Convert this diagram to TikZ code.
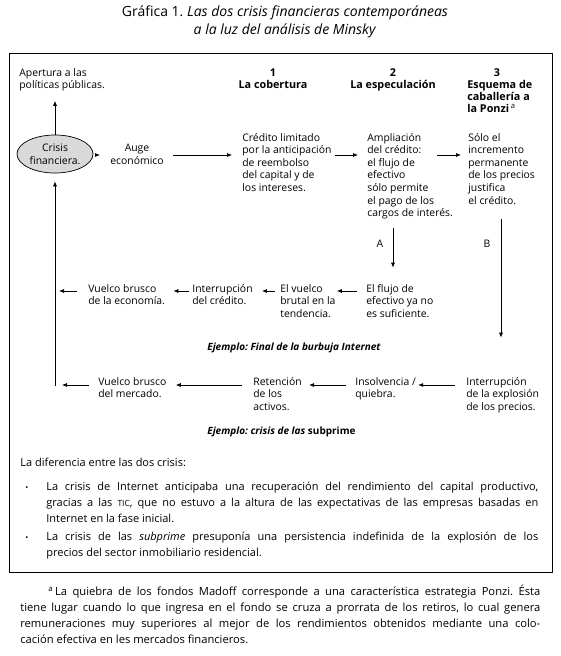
\documentclass[tikz,border=0pt]{standalone}
\usepackage{fontspec}
\setmainfont{Open Sans}
\usetikzlibrary{shapes.geometric,arrows.meta}
\hyphenpenalty=10000
\exhyphenpenalty=10000
\frenchspacing
\begin{document}
\begin{tikzpicture}[x=1pt,y=-1pt,line width=0.7pt]
	\tikzstyle{txt}=[inner sep=0pt,anchor=base west,align=left,font=\fontsize{10.4}{12.6}\selectfont]
	\tikzstyle{hdr}=[inner sep=0pt,anchor=base,align=center,font=\fontsize{10.8}{12}\selectfont\bfseries]
	\tikzstyle{par}=[inner sep=0pt,anchor=base west,align=justify,font=\fontsize{11}{16}\selectfont]
	\tikzstyle{arr}=[-{Latex[length=5pt,width=4pt]}]
	\tikzstyle{crisis}=[ellipse,draw,fill=gray!30,minimum width=76pt,minimum height=38pt,inner sep=0pt,align=center,font=\fontsize{10.4}{12.6}\selectfont]
	\useasboundingbox (0,0) rectangle (561,656);

	\node[inner sep=0pt,anchor=base,align=center,font=\fontsize{14}{18}\selectfont] (title) at (285,34.5) {Gráfica 1. \textit{Las dos crisis financieras contemporáneas}\\\textit{a la luz del análisis de Minsky}};
	\draw[line width=0.9pt] (9,53) rectangle (552,572);

	% encabezados
	\node[txt,font=\fontsize{10.4}{12}\selectfont] (apert) at (19,88) {Apertura a las\\políticas públicas.};
	\node[hdr] (h1) at (273,88) {1\\La cobertura};
	\node[hdr] (h2) at (393,88) {2\\La especulación};
	\node[hdr] (h3) at (497,76) {3};
	\node[txt,font=\fontsize{10.8}{12}\selectfont\bfseries] (ponzi) at (467,112) {Esquema de\\caballería a\\la Ponzi\,{\mdseries\textsuperscript{a}}};

	% fila 1
	\node[crisis] (crisis) at (55,154) {Crisis\\financiera.};
	\node[txt,anchor=base,align=center] (auge) at (137,164.3) {Auge\\económico};
	\node[txt] (cred) at (242,191.4) {Crédito limitado\\por la anticipación\\de reembolso\\del capital y de\\los intereses.};
	\node[txt] (ampl) at (367,216.6) {Ampliación\\del crédito:\\el flujo de\\efectivo\\sólo permite\\el pago de los\\cargos de interés.};
	\node[txt] (solo) at (468,204) {Sólo el\\incremento\\permanente\\de los precios\\justifica\\el crédito.};
	\coordinate (row1) at (0,155);

	\draw[arr,shorten <=2pt,shorten >=10pt] (crisis.east |- row1) -- (auge.west |- row1);
	\draw[arr,shorten <=9pt,shorten >=10pt] (auge.east |- row1) -- (cred.west |- row1);
	\draw[arr,shorten <=3pt,shorten >=9pt] (cred.east |- row1) -- (ampl.west |- row1);
	\draw[arr,shorten <=70pt,shorten >=7pt] (ampl.west |- row1) -- (solo.west |- row1);
	\draw[arr,shorten >=10pt] (crisis.north) -- (crisis.north |- apert.south);

	% fila 2: Internet
	\node[txt] (flujo) at (366,317.2) {El flujo de\\efectivo ya no\\es suficiente.};
	\node[txt] (brutal) at (280,317.2) {El vuelco\\brutal en la\\tendencia.};
	\node[txt] (interr) at (192,304.6) {Interrupción\\del crédito.};
	\node[txt] (vuelcoe) at (88,304.6) {Vuelco brusco\\de la economía.};
	\node[txt,font=\fontsize{10}{12.6}\selectfont\bfseries\itshape] (ej1) at (207,350) {Ejemplo: Final de la burbuja Internet};
	\coordinate (row2) at (0,291);

	% fila 3: subprime
	\node[txt] (interrp) at (466,410.2) {Interrupción\\de la explosión\\de los precios.};
	\node[txt] (insolv) at (355,397.6) {Insolvencia /\\quiebra.};
	\node[txt] (reten) at (253,410.2) {Retención\\de los\\activos.};
	\node[txt] (vuelcom) at (98,397.6) {Vuelco brusco\\del mercado.};
	\node[txt,font=\fontsize{10}{12.6}\selectfont\bfseries\itshape] (ej2) at (207,434) {Ejemplo: crisis de las \textup{subprime}};
	\coordinate (row3) at (0,385);
	\coordinate (loop) at (55,386);

	\coordinate (colA) at (393,0);
	\coordinate (colB) at (501,0);
	\node[txt,anchor=base] (lblA) at (380,247) {A};
	\node[txt,anchor=base] (lblB) at (487,247) {B};
	\draw[arr,shorten <=9pt,shorten >=16pt] (colA |- ampl.south) -- (colA |- flujo.north);
	\draw[arr,shorten <=14pt,shorten >=39pt] (colB |- solo.south) -- (colB |- interrp.north);

	\draw[arr,shorten <=9pt,shorten >=1pt] (flujo.west |- row2) -- (brutal.east |- row2);
	\draw[arr,shorten <=5pt,shorten >=9pt] (brutal.west |- row2) -- (interr.east |- row2);
	\draw[arr,shorten <=3pt,shorten >=8pt] (interr.west |- row2) -- (vuelcoe.east |- row2);
	\draw[arr,shorten <=11pt,shorten >=4pt] (vuelcoe.west |- row2) -- (loop |- row2);

	\draw[arr,shorten <=11pt,shorten >=2pt] (interrp.west |- row3) -- (insolv.east |- row3);
	\draw[arr,shorten <=9pt,shorten >=7pt] (insolv.west |- row3) -- (reten.east |- row3);
	\draw[arr,shorten <=11pt,shorten >=9pt] (reten.west |- row3) -- (vuelcom.east |- row3);
	\draw[arr,shorten <=9pt,shorten >=7pt] (vuelcom.west |- row3) -- (loop |- row3);
	\draw[arr,shorten >=8pt] (loop) -- (crisis.south);

	% diferencia
	\node[txt,font=\fontsize{11}{16}\selectfont] (diff) at (20,466) {La diferencia entre las dos crisis:};
	\node[txt,font=\fontsize{8}{8}\selectfont] (dot1) at (25,490) {\textbullet};
	\node[par,text width=492pt] (bul1) at (46,490) {La crisis de Internet anticipaba una recuperación del rendimiento del capital productivo,\linebreak gracias a las {\fontsize{8.5}{8}\selectfont TIC}, que no estuvo a la altura de las expectativas de las empresas basadas en\linebreak Internet en la fase inicial.};
	\node[txt,font=\fontsize{8}{8}\selectfont] (dot2) at (25,540) {\textbullet};
	\node[par,text width=492pt] (bul2) at (46,540) {La crisis de las \textit{subprime} presuponía una persistencia indefinida de la explosión de los\linebreak precios del sector inmobiliario residencial.};

	% nota
	\node[par,text width=520pt,font=\fontsize{11.2}{16}\selectfont] (nota) at (20,595.5) {\hspace*{28pt}\textsuperscript{a}\,La quiebra de los fondos Madoff corresponde a una característica estrategia Ponzi. Ésta\linebreak tiene lugar cuando lo que ingresa en el fondo se cruza a prorrata de los retiros, lo cual genera\linebreak remuneraciones muy superiores al mejor de los rendimientos obtenidos mediante una colo-\linebreak cación efectiva en les mercados financieros.};
\end{tikzpicture}
\end{document}
